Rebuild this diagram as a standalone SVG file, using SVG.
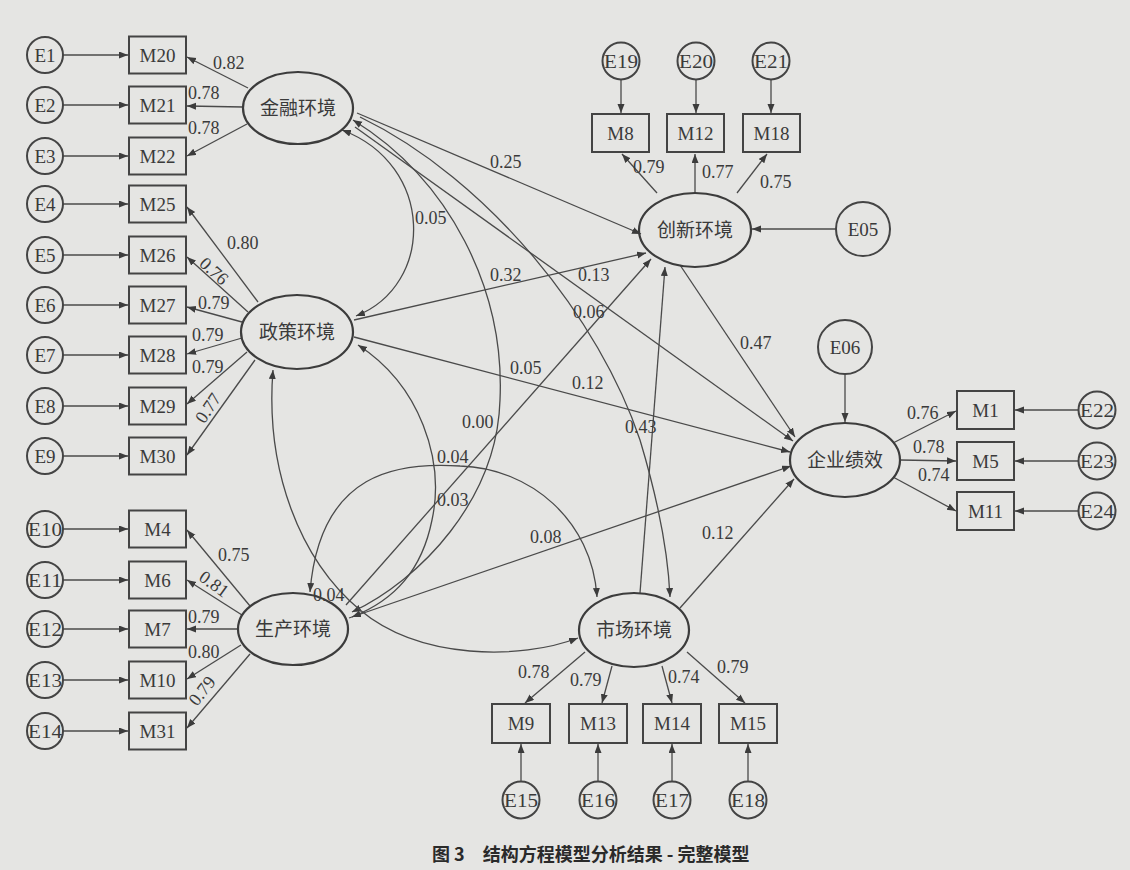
<svg xmlns="http://www.w3.org/2000/svg" width="1130" height="870" viewBox="0 0 1130 870">
<style>
.bg{fill:#e5e5e3}
.lat{fill:none;stroke:#3c3c3c;stroke-width:2.2}
.box{fill:none;stroke:#444;stroke-width:2}
.err{fill:none;stroke:#444;stroke-width:2}
.t{font-family:"Liberation Serif","Noto Sans CJK SC",serif;font-size:19px;fill:#3a3a3a;text-anchor:middle;dominant-baseline:central}
.cn{font-family:"Liberation Serif","Noto Sans CJK SC",serif;font-size:19px;fill:#3a3a3a;text-anchor:middle;dominant-baseline:central}
.n{font-family:"Liberation Serif",serif;font-size:18px;fill:#3a3a3a}
.title{font-family:"Noto Sans CJK SC",sans-serif;font-size:18px;font-weight:bold;fill:#2a2a2a}
#conn path,#conn line{fill:none;stroke:#4a4a4a;stroke-width:1.3}
.a{marker-end:url(#ah)}
.d{marker-end:url(#ah);marker-start:url(#ahs)}
</style>
<defs>
<marker id="ah" markerUnits="userSpaceOnUse" markerWidth="10" markerHeight="8" refX="9" refY="3.5" orient="auto"><path d="M0,0 L9,3.5 L0,7 z" fill="#3c3c3c"/></marker>
<marker id="ahs" markerUnits="userSpaceOnUse" markerWidth="10" markerHeight="8" refX="9" refY="3.5" orient="auto-start-reverse"><path d="M0,0 L9,3.5 L0,7 z" fill="#3c3c3c"/></marker>
</defs>
<rect class="bg" x="0" y="0" width="1130" height="870"/>

<g id="conn">
<!-- error arrows left -->
<line class="a" x1="63" y1="55" x2="128" y2="55"/>
<line class="a" x1="63" y1="105" x2="128" y2="105"/>
<line class="a" x1="63" y1="156" x2="128" y2="156"/>
<line class="a" x1="63" y1="204" x2="128" y2="204"/>
<line class="a" x1="63" y1="255" x2="128" y2="255"/>
<line class="a" x1="63" y1="305" x2="128" y2="305"/>
<line class="a" x1="63" y1="355" x2="128" y2="355"/>
<line class="a" x1="63" y1="406" x2="128" y2="406"/>
<line class="a" x1="63" y1="456" x2="128" y2="456"/>
<line class="a" x1="63" y1="529" x2="128" y2="529"/>
<line class="a" x1="63" y1="580" x2="128" y2="580"/>
<line class="a" x1="63" y1="629" x2="128" y2="629"/>
<line class="a" x1="63" y1="680" x2="128" y2="680"/>
<line class="a" x1="63" y1="731" x2="128" y2="731"/>
<!-- loadings left -->
<line class="a" x1="248" y1="88" x2="187" y2="57"/>
<line class="a" x1="243" y1="107" x2="187" y2="106"/>
<line class="a" x1="247" y1="124" x2="187" y2="156"/>
<line class="a" x1="258" y1="302" x2="187" y2="207"/>
<line class="a" x1="248" y1="312" x2="187" y2="257"/>
<line class="a" x1="242" y1="322" x2="187" y2="307"/>
<line class="a" x1="242" y1="338" x2="187" y2="354"/>
<line class="a" x1="247" y1="352" x2="187" y2="404"/>
<line class="a" x1="255" y1="360" x2="187" y2="455"/>
<line class="a" x1="250" y1="606" x2="187" y2="530"/>
<line class="a" x1="242" y1="615" x2="187" y2="580"/>
<line class="a" x1="238" y1="629" x2="187" y2="629"/>
<line class="a" x1="241" y1="645" x2="187" y2="679"/>
<line class="a" x1="250" y1="654" x2="187" y2="728"/>
<!-- innovation -->
<line class="a" x1="621" y1="80" x2="621" y2="113"/>
<line class="a" x1="696" y1="80" x2="696" y2="113"/>
<line class="a" x1="771" y1="80" x2="771" y2="113"/>
<line class="a" x1="657" y1="193" x2="622" y2="154"/>
<line class="a" x1="695" y1="193" x2="695" y2="154"/>
<line class="a" x1="737" y1="193" x2="767" y2="154"/>
<line class="a" x1="836" y1="229" x2="752" y2="229"/>
<!-- performance -->
<line class="a" x1="845" y1="374" x2="845" y2="422"/>
<line class="a" x1="893" y1="443" x2="956" y2="411"/>
<line class="a" x1="900" y1="460" x2="956" y2="461"/>
<line class="a" x1="893" y1="477" x2="956" y2="511"/>
<line class="a" x1="1078" y1="410" x2="1015" y2="410"/>
<line class="a" x1="1078" y1="461" x2="1015" y2="461"/>
<line class="a" x1="1078" y1="511" x2="1015" y2="511"/>
<!-- market -->
<line class="a" x1="585" y1="652" x2="525" y2="703"/>
<line class="a" x1="612" y1="666" x2="602" y2="703"/>
<line class="a" x1="662" y1="666" x2="672" y2="703"/>
<line class="a" x1="687" y1="652" x2="745" y2="703"/>
<line class="a" x1="521" y1="781" x2="521" y2="744"/>
<line class="a" x1="598" y1="781" x2="598" y2="744"/>
<line class="a" x1="672" y1="781" x2="672" y2="744"/>
<line class="a" x1="748" y1="781" x2="748" y2="744"/>
<!-- structural paths -->
<line class="a" x1="357" y1="113" x2="641" y2="234"/>
<line class="a" x1="355" y1="127" x2="793" y2="441"/>
<line class="a" x1="354" y1="320" x2="646" y2="253"/>
<line class="a" x1="354" y1="337" x2="790" y2="452"/>
<line class="a" x1="346" y1="605" x2="651" y2="259"/>
<line class="a" x1="349" y1="618" x2="791" y2="466"/>
<line class="a" x1="640" y1="593" x2="665" y2="267"/>
<line class="a" x1="680" y1="608" x2="794" y2="479"/>
<line class="a" x1="680" y1="265" x2="795" y2="437"/>
<!-- curves -->
<path class="d" d="M342,130 C435,165 435,285 356,316"/>
<path class="d" d="M353,120 C450,180 505,290 500,400 C497,500 420,580 352,612"/>
<path class="d" d="M358,345 C420,385 445,460 432,520 C422,570 395,600 352,617"/>
<path class="d" d="M273,370 C265,470 300,560 360,610 C420,660 520,660 578,638"/>
<path class="d" d="M310,592 C320,470 400,462 460,466 C530,468 592,520 597,597"/>
<path class="a" d="M360,117 C490,180 600,320 640,440 C658,500 668,550 670,597"/>
</g>

<g id="labels">
<text class="n" x="213" y="69">0.82</text>
<text class="n" x="188" y="99">0.78</text>
<text class="n" x="188" y="134">0.78</text>
<text class="n" x="227" y="249">0.80</text>
<text class="n" transform="translate(214,271) rotate(42)" text-anchor="middle" dominant-baseline="central">0.76</text>
<text class="n" x="198" y="309">0.79</text>
<text class="n" x="192" y="341">0.79</text>
<text class="n" x="192" y="373">0.79</text>
<text class="n" transform="translate(208,408) rotate(-56)" text-anchor="middle" dominant-baseline="central">0.77</text>
<text class="n" x="218" y="561">0.75</text>
<text class="n" transform="translate(214,584) rotate(36)" text-anchor="middle" dominant-baseline="central">0.81</text>
<text class="n" x="188" y="623">0.79</text>
<text class="n" x="188" y="658">0.80</text>
<text class="n" transform="translate(202,691) rotate(-52)" text-anchor="middle" dominant-baseline="central">0.79</text>
<text class="n" x="490" y="168">0.25</text>
<text class="n" x="415" y="224">0.05</text>
<text class="n" x="490" y="281">0.32</text>
<text class="n" x="578" y="281">0.13</text>
<text class="n" x="573" y="318">0.06</text>
<text class="n" x="510" y="374">0.05</text>
<text class="n" x="572" y="389">0.12</text>
<text class="n" x="625" y="433">0.43</text>
<text class="n" x="462" y="428">0.00</text>
<text class="n" x="437" y="463">0.04</text>
<text class="n" x="437" y="506">0.03</text>
<text class="n" x="530" y="543">0.08</text>
<text class="n" x="313" y="601">0.04</text>
<text class="n" x="702" y="539">0.12</text>
<text class="n" x="740" y="349">0.47</text>
<text class="n" x="633" y="173">0.79</text>
<text class="n" x="702" y="178">0.77</text>
<text class="n" x="760" y="188">0.75</text>
<text class="n" x="907" y="419">0.76</text>
<text class="n" x="913" y="453">0.78</text>
<text class="n" x="918" y="481">0.74</text>
<text class="n" x="518" y="678">0.78</text>
<text class="n" x="570" y="686">0.79</text>
<text class="n" x="668" y="683">0.74</text>
<text class="n" x="717" y="673">0.79</text>
</g>

<g id="F"><ellipse class="lat" cx="298" cy="108" rx="55" ry="36"/><text class="cn" x="298" y="108">金融环境</text></g>
<g id="P"><ellipse class="lat" cx="297" cy="332" rx="56" ry="37"/><text class="cn" x="297" y="332">政策环境</text></g>
<g id="S"><ellipse class="lat" cx="293" cy="629" rx="55" ry="36"/><text class="cn" x="293" y="629">生产环境</text></g>
<g id="Mk"><ellipse class="lat" cx="634" cy="630" rx="55" ry="37"/><text class="cn" x="634" y="630">市场环境</text></g>
<g id="I"><ellipse class="lat" cx="695" cy="230" rx="56" ry="37"/><text class="cn" x="695" y="230">创新环境</text></g>
<g id="Perf"><ellipse class="lat" cx="845" cy="460" rx="55" ry="37"/><text class="cn" x="845" y="460">企业绩效</text></g>

<g id="M20"><rect class="box" x="129" y="36.5" width="57" height="37"/><text class="t" x="157.5" y="55">M20</text></g>
<g id="M21"><rect class="box" x="129" y="86.5" width="57" height="37"/><text class="t" x="157.5" y="105">M21</text></g>
<g id="M22"><rect class="box" x="129" y="137.5" width="57" height="37"/><text class="t" x="157.5" y="156">M22</text></g>
<g id="M25"><rect class="box" x="129" y="185.5" width="57" height="37"/><text class="t" x="157.5" y="204">M25</text></g>
<g id="M26"><rect class="box" x="129" y="236.5" width="57" height="37"/><text class="t" x="157.5" y="255">M26</text></g>
<g id="M27"><rect class="box" x="129" y="286.5" width="57" height="37"/><text class="t" x="157.5" y="305">M27</text></g>
<g id="M28"><rect class="box" x="129" y="336.5" width="57" height="37"/><text class="t" x="157.5" y="355">M28</text></g>
<g id="M29"><rect class="box" x="129" y="387.5" width="57" height="37"/><text class="t" x="157.5" y="406">M29</text></g>
<g id="M30"><rect class="box" x="129" y="437.5" width="57" height="37"/><text class="t" x="157.5" y="456">M30</text></g>
<g id="M4"><rect class="box" x="129" y="510.5" width="57" height="37"/><text class="t" x="157.5" y="529">M4</text></g>
<g id="M6"><rect class="box" x="129" y="561.5" width="57" height="37"/><text class="t" x="157.5" y="580">M6</text></g>
<g id="M7"><rect class="box" x="129" y="610.5" width="57" height="37"/><text class="t" x="157.5" y="629">M7</text></g>
<g id="M10"><rect class="box" x="129" y="661.5" width="57" height="37"/><text class="t" x="157.5" y="680">M10</text></g>
<g id="M31"><rect class="box" x="129" y="712.5" width="57" height="37"/><text class="t" x="157.5" y="731">M31</text></g>

<g id="E1"><circle class="err" cx="45" cy="55" r="18"/><text class="t" x="45" y="55">E1</text></g>
<g id="E2"><circle class="err" cx="45" cy="105" r="18"/><text class="t" x="45" y="105">E2</text></g>
<g id="E3"><circle class="err" cx="45" cy="156" r="18"/><text class="t" x="45" y="156">E3</text></g>
<g id="E4"><circle class="err" cx="45" cy="204" r="18"/><text class="t" x="45" y="204">E4</text></g>
<g id="E5"><circle class="err" cx="45" cy="255" r="18"/><text class="t" x="45" y="255">E5</text></g>
<g id="E6"><circle class="err" cx="45" cy="305" r="18"/><text class="t" x="45" y="305">E6</text></g>
<g id="E7"><circle class="err" cx="45" cy="355" r="18"/><text class="t" x="45" y="355">E7</text></g>
<g id="E8"><circle class="err" cx="45" cy="406" r="18"/><text class="t" x="45" y="406">E8</text></g>
<g id="E9"><circle class="err" cx="45" cy="456" r="18"/><text class="t" x="45" y="456">E9</text></g>
<g id="E10"><circle class="err" cx="45" cy="529" r="18"/><text class="t" x="45" y="529" textLength="34" lengthAdjust="spacingAndGlyphs">E10</text></g>
<g id="E11"><circle class="err" cx="45" cy="580" r="18"/><text class="t" x="45" y="580" textLength="34" lengthAdjust="spacingAndGlyphs">E11</text></g>
<g id="E12"><circle class="err" cx="45" cy="629" r="18"/><text class="t" x="45" y="629" textLength="34" lengthAdjust="spacingAndGlyphs">E12</text></g>
<g id="E13"><circle class="err" cx="45" cy="680" r="18"/><text class="t" x="45" y="680" textLength="34" lengthAdjust="spacingAndGlyphs">E13</text></g>
<g id="E14"><circle class="err" cx="45" cy="731" r="18"/><text class="t" x="45" y="731" textLength="34" lengthAdjust="spacingAndGlyphs">E14</text></g>

<g id="M8"><rect class="box" x="592" y="114" width="57" height="38"/><text class="t" x="620.5" y="133">M8</text></g>
<g id="M12"><rect class="box" x="667" y="114" width="57" height="38"/><text class="t" x="695.5" y="133">M12</text></g>
<g id="M18"><rect class="box" x="743" y="114" width="57" height="38"/><text class="t" x="771.5" y="133">M18</text></g>
<g id="E19"><circle class="err" cx="621" cy="61" r="18.5"/><text class="t" x="621" y="61" textLength="34" lengthAdjust="spacingAndGlyphs">E19</text></g>
<g id="E20"><circle class="err" cx="696" cy="61" r="18.5"/><text class="t" x="696" y="61" textLength="34" lengthAdjust="spacingAndGlyphs">E20</text></g>
<g id="E21"><circle class="err" cx="771" cy="61" r="18.5"/><text class="t" x="771" y="61" textLength="34" lengthAdjust="spacingAndGlyphs">E21</text></g>
<g id="E05"><circle class="err" cx="863" cy="229" r="27"/><text class="t" x="863" y="229">E05</text></g>
<g id="E06"><circle class="err" cx="845" cy="347" r="27"/><text class="t" x="845" y="347">E06</text></g>

<g id="M1"><rect class="box" x="957" y="391" width="57" height="38"/><text class="t" x="985.5" y="410">M1</text></g>
<g id="M5"><rect class="box" x="957" y="442" width="57" height="38"/><text class="t" x="985.5" y="461">M5</text></g>
<g id="M11"><rect class="box" x="957" y="492" width="57" height="38"/><text class="t" x="985.5" y="511">M11</text></g>
<g id="E22"><circle class="err" cx="1097" cy="410" r="18.5"/><text class="t" x="1097" y="410" textLength="34" lengthAdjust="spacingAndGlyphs">E22</text></g>
<g id="E23"><circle class="err" cx="1097" cy="461" r="18.5"/><text class="t" x="1097" y="461" textLength="34" lengthAdjust="spacingAndGlyphs">E23</text></g>
<g id="E24"><circle class="err" cx="1097" cy="511" r="18.5"/><text class="t" x="1097" y="511" textLength="34" lengthAdjust="spacingAndGlyphs">E24</text></g>

<g id="M9"><rect class="box" x="492" y="704" width="58" height="39"/><text class="t" x="521" y="723.5">M9</text></g>
<g id="M13"><rect class="box" x="569" y="704" width="58" height="39"/><text class="t" x="598" y="723.5">M13</text></g>
<g id="M14"><rect class="box" x="643" y="704" width="58" height="39"/><text class="t" x="672" y="723.5">M14</text></g>
<g id="M15"><rect class="box" x="719" y="704" width="58" height="39"/><text class="t" x="748" y="723.5">M15</text></g>
<g id="E15"><circle class="err" cx="521" cy="800" r="18.5"/><text class="t" x="521" y="800" textLength="34" lengthAdjust="spacingAndGlyphs">E15</text></g>
<g id="E16"><circle class="err" cx="598" cy="800" r="18.5"/><text class="t" x="598" y="800" textLength="34" lengthAdjust="spacingAndGlyphs">E16</text></g>
<g id="E17"><circle class="err" cx="672" cy="800" r="18.5"/><text class="t" x="672" y="800" textLength="34" lengthAdjust="spacingAndGlyphs">E17</text></g>
<g id="E18"><circle class="err" cx="748" cy="800" r="18.5"/><text class="t" x="748" y="800" textLength="34" lengthAdjust="spacingAndGlyphs">E18</text></g>

<g id="caption"><text class="title" x="432" y="861">图 3　结构方程模型分析结果 - 完整模型</text></g>
</svg>
